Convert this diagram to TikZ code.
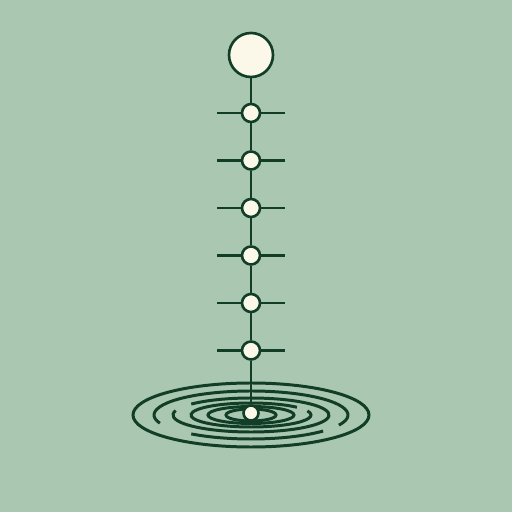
\documentclass[tikz,border=0pt]{standalone}
\usepackage{tikz}
\usetikzlibrary{positioning}
\definecolor{sage}{HTML}{A9C7B1}
\definecolor{ink}{HTML}{123D27}
\definecolor{cream}{HTML}{FBF8EA}

\begin{document}
\begin{tikzpicture}[
    node distance=0.95cm,
    bead/.style={circle, draw=ink, fill=cream, line width=1.5pt, inner sep=0pt},
    joint/.style={bead, minimum size=0.36cm},
    tick/.style={draw=ink, line width=1.4pt},
    ring/.style={draw=ink, line width=1.7pt}
]
% Background
\fill[sage] (0,0) rectangle (10.24,10.24);
\useasboundingbox (0,0) rectangle (10.24,10.24);

% Ripples on the pool
\coordinate (pool) at (5.02,1.94);
\draw[ring] (pool) ellipse [x radius=2.36, y radius=0.64];
\draw[ring] ([shift={(-25:1.94 and 0.48)}]pool) arc[start angle=-25, end angle=200, x radius=1.94, y radius=0.48];
\draw[ring] ([shift={(232:1.94 and 0.48)}]pool) arc[start angle=232, end angle=318, x radius=1.94, y radius=0.48];
\draw[ring] ([shift={(165:1.56 and 0.34)}]pool) arc[start angle=165, end angle=500, x radius=1.56, y radius=0.34];
\draw[ring] ([shift={(40:1.20 and 0.24)}]pool) arc[start angle=40, end angle=380, x radius=1.20, y radius=0.24];
\draw[ring] (pool) ellipse [x radius=0.86, y radius=0.17];
\draw[ring] (pool) ellipse [x radius=0.50, y radius=0.12];

% Top bead and joints
\node[bead, minimum size=0.88cm] (top) at (5.02,9.14) {};
\node[joint, below of=top, node distance=1.16cm] (j1) {};
\node[joint, below of=j1] (j2) {};
\node[joint, below of=j2] (j3) {};
\node[joint, below of=j3] (j4) {};
\node[joint, below of=j4] (j5) {};
\node[joint, below of=j5] (j6) {};
\node[joint, minimum size=0.30cm] (ball) at (5.02,1.98) {};

% Stem
\draw[tick] (top) -- (j1);
\draw[tick] (j1) -- (j2);
\draw[tick] (j2) -- (j3);
\draw[tick] (j3) -- (j4);
\draw[tick] (j4) -- (j5);
\draw[tick] (j5) -- (j6);
\draw[tick] (j6) -- (ball);

% Cross ticks
\draw[tick] (j1.west) -- ++(-0.48,0);
\draw[tick] (j1.east) -- ++(0.48,0);
\draw[tick] (j2.west) -- ++(-0.48,0);
\draw[tick] (j2.east) -- ++(0.48,0);
\draw[tick] (j3.west) -- ++(-0.48,0);
\draw[tick] (j3.east) -- ++(0.48,0);
\draw[tick] (j4.west) -- ++(-0.48,0);
\draw[tick] (j4.east) -- ++(0.48,0);
\draw[tick] (j5.west) -- ++(-0.48,0);
\draw[tick] (j5.east) -- ++(0.48,0);
\draw[tick] (j6.west) -- ++(-0.48,0);
\draw[tick] (j6.east) -- ++(0.48,0);

\end{tikzpicture}
\end{document}
